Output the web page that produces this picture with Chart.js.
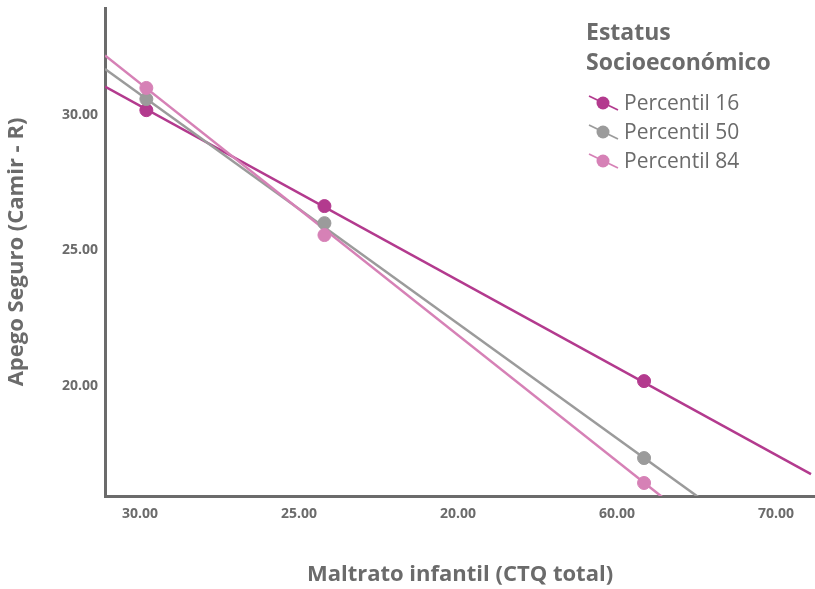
<!DOCTYPE html>
<html>
<head>
<meta charset="utf-8">
<script src="https://cdn.jsdelivr.net/npm/chart.js@4.4.1/dist/chart.umd.min.js"></script>
<style>
  html, body { margin: 0; padding: 0; background: #fff; }
  #wrap { width: 815px; height: 589px; }
</style>
</head>
<body>
<div id="wrap"><canvas id="chart"></canvas></div>
<script>
// tick labels as printed on the original figure
const xTickLabels = ['30.00', '25.00', '20.00', '60.00', '70.00'];
const yTicks = [30, 25, 20];

const legendTitle = ['Estatus', 'Socioeconómico'];
const seriesNames = ['Percentil 16', 'Percentil 50', 'Percentil 84'];

// marker positions (x in tick-slot units)
const markerX = [0.04, 1.16, 3.17];
const p16 = [30.18, 26.64, 20.18];
const p50 = [30.59, 26.01, 17.34];
const p84 = [31.00, 25.57, 16.42];

// fitted lines, start and end
const fitX = [-0.22, 4.22];
const p16Fit = [31.05, 16.75];
const p50Fit = [31.7, 12.9];
const p84Fit = [32.2, 11.55];

const colors = ['#b33a8e', '#9b9b9b', '#d681b6'];
const textColor = '#6b6b6b';
const FONT = '"Open Sans", "Noto Sans", sans-serif';

const series = [p16, p50, p84];
const fits = [p16Fit, p50Fit, p84Fit];

const datasets = [];
series.forEach((vals, i) => {
    datasets.push({
        type: 'line',
        label: seriesNames[i],
        data: fitX.map((x, j) => ({ x: x, y: fits[i][j] })),
        borderColor: colors[i],
        borderWidth: 2.5,
        pointRadius: 0,
        clip: 0,
        order: 10 - i
    });
    datasets.push({
        type: 'scatter',
        label: seriesNames[i] + ' pts',
        data: markerX.map((x, j) => ({ x: x, y: vals[j] })),
        backgroundColor: colors[i],
        borderColor: colors[i],
        pointRadius: 6.5,
        pointHoverRadius: 6.5,
        order: 5 - i
    });
});

const legendPlugin = {
    id: 'sesLegend',
    afterDraw(chart) {
        const ctx = chart.ctx;
        ctx.save();
        ctx.fillStyle = textColor;
        ctx.textBaseline = 'middle';
        ctx.textAlign = 'left';
        ctx.font = 'bold 23px ' + FONT;
        legendTitle.forEach((t, i) => ctx.fillText(t, 586, 33 + i * 30));

        ctx.font = '21px ' + FONT;
        seriesNames.forEach((name, i) => {
            const cy = 103 + i * 29;
            ctx.strokeStyle = colors[i];
            ctx.lineWidth = 1.8;
            ctx.beginPath();
            ctx.moveTo(589, cy - 7);
            ctx.lineTo(618, cy + 7);
            ctx.stroke();
            ctx.fillStyle = colors[i];
            ctx.beginPath();
            ctx.arc(603, cy, 6.5, 0, Math.PI * 2);
            ctx.fill();
            ctx.fillStyle = textColor;
            ctx.fillText(name, 624, cy + 1);
        });
        ctx.restore();
    }
};

new Chart(document.getElementById('chart').getContext('2d'), {
    data: { datasets: datasets },
    options: {
        responsive: true,
        maintainAspectRatio: false,
        animation: false,
        layout: { autoPadding: false, padding: { top: 8, right: 0, left: 0, bottom: 0 } },
        plugins: {
            legend: { display: false },
            tooltip: { enabled: false }
        },
        scales: {
            x: {
                type: 'linear',
                min: -0.22,
                max: 4.245,
                grid: { display: false, drawTicks: false },
                border: { display: true, color: '#6b6b6b', width: 3 },
                afterBuildTicks: (scale) => { scale.ticks = xTickLabels.map((_, i) => ({ value: i })); },
                afterFit: (scale) => {
                    scale.height = 93;
                    scale.paddingLeft = 0;
                    scale.paddingRight = 0;
                },
                ticks: {
                    padding: 10,
                    color: textColor,
                    font: { family: FONT, size: 14, weight: 'bold' },
                    maxRotation: 0,
                    callback: (v) => xTickLabels[v]
                },
                title: {
                    display: true,
                    text: 'Maltrato infantil (CTQ total)',
                    color: textColor,
                    font: { family: FONT, size: 22, weight: 'bold' },
                    padding: { top: 0, bottom: 1 }
                }
            },
            y: {
                type: 'linear',
                min: 15.94,
                max: 33.95,
                grid: { display: false, drawTicks: false },
                border: { display: true, color: '#6b6b6b', width: 3 },
                afterBuildTicks: (scale) => { scale.ticks = yTicks.map(v => ({ value: v })); },
                afterFit: (scale) => {
                    scale.width = 105;
                    scale.paddingTop = 0;
                    scale.paddingBottom = 0;
                },
                ticks: {
                    padding: 7,
                    color: textColor,
                    font: { family: FONT, size: 14, weight: 'bold' },
                    callback: (v) => Number(v).toFixed(2)
                },
                title: {
                    display: true,
                    text: 'Apego Seguro (Camir - R)',
                    color: textColor,
                    font: { family: FONT, size: 22, weight: 'bold' },
                    padding: { top: 4, bottom: 0 }
                }
            }
        }
    },
    plugins: [legendPlugin]
});
</script>
</body>
</html>
